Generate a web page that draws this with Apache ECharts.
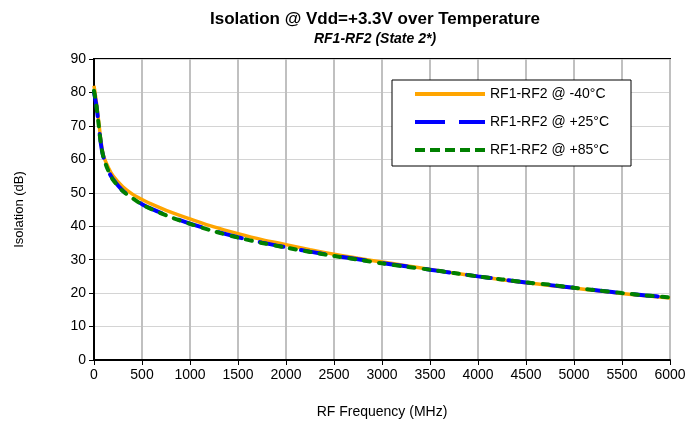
<!DOCTYPE html>
<html><head><meta charset="utf-8">
<script src="https://cdn.jsdelivr.net/npm/echarts@6/dist/echarts.min.js"></script>
<style>html,body{margin:0;padding:0;background:#fff}#c{width:700px;height:426px}</style>
</head><body><div id="c"></div>
<script>
var freq = [0,25,50,75,100,150,200,300,400,500,600,800,1000,1250,1500,1750,2000,2250,2500,2750,3000,3250,3500,3750,4000,4250,4500,4750,5000,5250,5500,5750,6000];
var isoM40 = [82,77,71,65,61,57.5,55,51.8,49.6,48,46.6,44.2,42.2,39.8,37.8,36,34.5,33,31.6,30.4,29.3,28.2,27.1,26,25,24,23.1,22.3,21.5,20.7,19.9,19.2,18.5];
var iso25  = [80,76,70,64,60.5,56.5,54,50.6,48.5,46.6,45.2,42.8,40.8,38.6,36.7,35.1,33.7,32.4,31.2,30.1,29,28,27,26,25,24.1,23.2,22.4,21.6,20.8,20,19.3,18.7];
var iso85  = [80.5,76,70,64,60.5,56.5,53.8,50.5,48.4,46.5,45.1,42.7,40.7,38.5,36.6,35,33.6,32.3,31.1,30,28.9,27.9,27,26,25,24.1,23.2,22.5,21.6,20.8,20,19.3,18.7];
var names = ['RF1-RF2 @ -40°C','RF1-RF2 @ +25°C','RF1-RF2 @ +85°C'];
var xTicks = {min:0, max:6000, interval:500};
var yTicks = {min:0, max:90, interval:10};

function pairs(ys){ return freq.map(function(f,i){ return [f, ys[i]]; }); }
var font = 'Liberation Sans, Arial, sans-serif';
var styles = [
  {color:'#ffa500', width:3.5, type:'solid', cap:'butt'},
  {color:'#0000ff', width:4, type:[24,18], cap:'round'},
  {color:'#008000', width:4, type:[6,9], cap:'round'}
];
function seg(a,b){ return 'M'+a+',0 L'+b+',0 L'+b+',4 L'+a+',4 Z '; }
var icons = [
  'path://' + seg(0,70),
  'path://' + seg(0,30) + seg(44,70),
  'path://' + seg(0,10) + seg(15,25) + seg(30,40) + seg(45,55) + seg(60,70)
];
var chart = echarts.init(document.getElementById('c'), null, {renderer:'canvas'});
chart.setOption({
  animation:false,
  backgroundColor:'#fff',
  title:{
    text:'Isolation @ Vdd=+3.3V over Temperature',
    subtext:'RF1-RF2 (State 2*)',
    left:370, top:6, textAlign:'center', itemGap:4,
    textStyle:{fontFamily:font, fontSize:17, fontWeight:'bold', color:'#000'},
    subtextStyle:{fontFamily:font, fontSize:14, fontWeight:'bold', fontStyle:'italic', color:'#000'}
  },
  grid:{left:94, right:30, top:59, bottom:66, show:true, borderColor:'#000', borderWidth:2, backgroundColor:'#fff'},
  legend:{
    orient:'vertical', left:392, top:80,
    padding:[7,22,9,23], itemGap:14, itemWidth:70, itemHeight:14,
    backgroundColor:'#fff', borderColor:'#000', borderWidth:1, borderRadius:0,
    textStyle:{fontFamily:font, fontSize:14, color:'#000'},
    data:names.map(function(n,i){ return {name:n, icon:icons[i], itemStyle:{color:styles[i].color}}; })
  },
  xAxis:{
    type:'value', min:xTicks.min, max:xTicks.max, interval:xTicks.interval,
    name:'RF Frequency (MHz)', nameLocation:'middle', nameGap:45,
    nameTextStyle:{fontFamily:font, fontSize:14, color:'#000'},
    axisLine:{show:true, lineStyle:{color:'#000', width:2}},
    axisTick:{show:true, inside:false, length:5, lineStyle:{color:'#000', width:1}},
    axisLabel:{fontFamily:font, fontSize:14, color:'#000', margin:8, formatter:function(v){return String(v);}},
    splitLine:{show:true, lineStyle:{color:'#c0c0c0', width:2}}
  },
  yAxis:{
    type:'value', min:yTicks.min, max:yTicks.max, interval:yTicks.interval,
    name:'Isolation (dB)', nameLocation:'middle', nameGap:68,
    nameTextStyle:{fontFamily:font, fontSize:13, color:'#000'},
    axisLine:{show:true, lineStyle:{color:'#000', width:2}},
    axisTick:{show:true, inside:false, length:5, lineStyle:{color:'#000', width:1}},
    axisLabel:{fontFamily:font, fontSize:14, color:'#000', margin:8},
    splitLine:{show:true, lineStyle:{color:'#d4d4d4', width:1}}
  },
  series:names.map(function(n,i){
    return {name:n, type:'line', data:pairs([isoM40,iso25,iso85][i]), smooth:0.3,
      symbol:'none', showSymbol:false, color:styles[i].color, lineStyle:styles[i]};
  })
});
</script></body></html>
